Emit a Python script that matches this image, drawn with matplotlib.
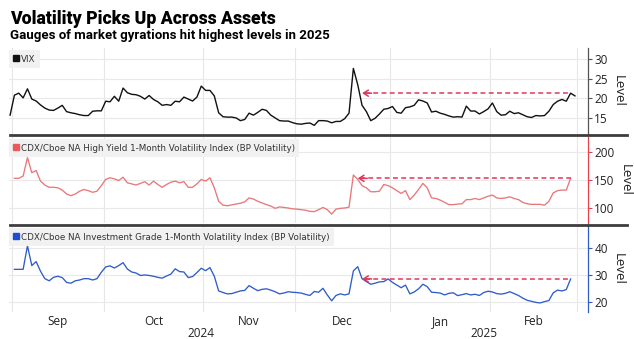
import numpy as np
import pandas as pd
import matplotlib
matplotlib.use('Agg')
import matplotlib.pyplot as plt
from matplotlib.lines import Line2D
from matplotlib.transforms import blended_transform_factory

# ---------------- data ----------------
dates = pd.bdate_range('2024-08-30', '2025-02-28')
vix = [15.7, 20.8, 21.3, 20.1, 22.4, 19.8, 19.3, 18.3, 17.5, 17.0,
       16.9, 17.5, 18.2, 16.6, 16.3, 16.1, 15.8, 15.6, 15.6, 16.7,
       16.8, 16.8, 19.25, 19.1, 20.5, 19.25, 22.6, 21.4, 21.0, 20.9,
       20.5, 19.8, 20.7, 19.7, 19.1, 18.2, 18.4, 18.2, 19.25, 19.1,
       20.3, 19.8, 19.3, 20.3, 23.1, 22.0, 22.0, 20.6, 16.3, 15.3,
       15.2, 15.2, 15.0, 14.3, 14.6, 16.2, 15.7, 16.4, 17.2, 16.9,
       15.7, 15.0, 14.3, 14.2, 14.2, 13.8, 13.5, 13.4, 13.6, 13.7,
       13.1, 14.3, 14.3, 14.2, 13.75, 14.1, 14.1, 14.8, 16.2, 27.6,
       23.5, 18.2, 16.6, 14.3, 14.9, 16.0, 17.2, 17.4, 17.9, 16.4,
       16.2, 17.6, 17.8, 18.2, 19.6, 19.3, 18.8, 16.5, 16.7, 16.2,
       15.9, 15.5, 15.2, 15.3, 15.2, 18.0, 16.75, 16.75, 16.0, 16.6,
       17.3, 18.8, 16.6, 15.7, 15.8, 16.7, 16.1, 16.3, 15.8, 15.3,
       15.1, 15.6, 15.5, 15.6, 16.7, 18.4, 19.25, 19.7, 19.25, 21.3,
       20.6]

cdx_dates = pd.bdate_range('2024-09-02', '2025-02-27')
hy = [153, 153, 157, 190, 163, 167, 148, 141, 137, 137,
      136, 132, 125, 122, 125, 130, 133, 131, 128, 130,
      140, 151, 154, 152, 149, 155, 145, 143, 141, 144,
      147, 141, 148, 142, 137, 142, 146, 148, 145, 147,
      137, 137, 143, 151, 148, 154, 136, 112, 105, 104,
      105.5, 107, 108.5, 111, 118, 116, 112, 109, 106, 103.5,
      99.4, 102, 101, 100, 98.5, 98, 97, 96, 94, 93.5,
      97, 101, 97, 89, 98, 99.4, 100, 101.5, 159, 151,
      140, 136, 129, 129, 130, 142, 140, 136, 131, 126,
      131, 115, 123, 133, 144, 136, 118, 117, 114, 110,
      106, 106, 107, 107.5, 115, 115, 117, 115, 118, 121,
      123, 118, 117, 118, 120, 117, 115, 110, 107.5, 106.5,
      106.5, 106.5, 105, 112, 127, 131, 132, 132, 153]
ig = [32.1, 32.1, 32.1, 40.9, 33.5, 35.0, 31.4, 28.6, 27.8, 29.1,
      29.5, 29.0, 27.2, 26.9, 27.8, 28.1, 28.6, 28.6, 28.1, 28.6,
      31.0, 33.0, 33.4, 32.6, 33.5, 34.6, 32.2, 31.1, 30.7, 29.8,
      30.0, 29.8, 29.5, 29.1, 28.8, 29.6, 30.3, 32.3, 31.25, 31.1,
      29.0, 29.4, 30.9, 32.5, 31.6, 32.75, 29.5, 24.0, 23.4, 22.9,
      23.0, 23.5, 24.0, 24.2, 26.0, 25.0, 24.1, 24.6, 24.8, 24.3,
      23.7, 22.9, 23.2, 23.7, 23.5, 23.4, 23.2, 22.7, 22.3, 23.8,
      23.5, 25.0, 22.5, 20.3, 22.3, 22.9, 22.5, 22.9, 31.5, 33.1,
      28.6, 27.5, 26.5, 26.9, 27.4, 27.5, 28.5, 27.2, 26.2, 25.2,
      26.2, 22.9, 23.6, 24.8, 26.5, 25.6, 23.5, 23.4, 23.2, 22.5,
      23.1, 23.3, 22.25, 22.6, 23.0, 22.5, 22.75, 22.3, 23.4, 23.9,
      23.6, 23.0, 22.8, 23.1, 23.7, 23.0, 22.3, 21.3, 20.5, 20.1,
      19.7, 19.5, 20.0, 20.4, 23.3, 24.3, 24.0, 24.5, 28.5]

labels = ['VIX',
          'CDX/Cboe NA High Yield 1-Month Volatility Index (BP Volatility)',
          'CDX/Cboe NA Investment Grade 1-Month Volatility Index (BP Volatility)']
arrow_from = '2025-02-27'
arrow_to = ['2024-12-23', '2024-12-20', '2024-12-23']
yticks = [[15, 20, 25, 30], [100, 150, 200], [20, 30, 40]]
ylims = [(10.9, 32.8), (73.2, 226.8), (16.1, 48.35)]

# ---------------- style ----------------
W, H = 634, 339
fig = plt.figure(figsize=(W / 100, H / 100), dpi=100)
fig.patch.set_facecolor('white')

line_colors = ['#111111', '#e8787a', '#2f5cc8']
spine_colors = ['#555555', '#e8414a', '#2f5cc8']
legend_colors = ['#111111', '#e85a5c', '#1f4fd0']
arrow_c = '#e0365f'

tick_font = 'Open Sans'
title_font = 'Roboto'

x_all = np.arange(len(dates))
x_cdx = dates.get_indexer(cdx_dates)
series = [(x_all, np.array(vix)), (x_cdx, np.array(hy)), (x_cdx, np.array(ig))]
dser = [pd.Series(vix, index=dates), pd.Series(hy, index=cdx_dates), pd.Series(ig, index=cdx_dates)]

# month boundaries and centers
months = dates.to_period('M')
first_idx = [i for i in range(1, len(dates)) if months[i] != months[i - 1]]
bounds = [i - 0.5 for i in first_idx] + [len(dates) - 0.5]
centers = [(bounds[k] + bounds[k + 1]) / 2 for k in range(len(bounds) - 1)]
mlabels = [dates[i].strftime('%b') for i in first_idx]
year_start = [i for i in first_idx if dates[i].month == 1][0] - 0.5
years = [(str(dates[first_idx[0]].year), (bounds[0] + year_start) / 2),
         (str(dates[-1].year), (year_start + bounds[-1]) / 2)]

left = 9 / W
width = (588 - 9) / W
tops = [48, 137, 226]
ph = 86
axes = []
for k in range(3):
    ax = fig.add_axes([left, 1 - (tops[k] + ph) / H, width, ph / H])
    axes.append(ax)
    x, y = series[k]
    ax.plot(x, y, color=line_colors[k], lw=1.0 if k == 0 else 0.95, zorder=3)
    ax.set_xlim(-0.25, 133.0)
    ax.set_ylim(*ylims[k])
    ax.set_yticks(yticks[k])
    ax.yaxis.tick_right()
    ax.yaxis.set_label_position('right')
    for s in ['left', 'top', 'bottom']:
        ax.spines[s].set_visible(False)
    ax.spines['right'].set_color(spine_colors[k])
    ax.spines['right'].set_linewidth(0.9)
    ax.tick_params(axis='y', direction='out', length=3, width=0.8,
                   color=spine_colors[k], labelsize=8.5, pad=1.5, labelcolor='#222222')
    for t in ax.get_yticklabels():
        t.set_fontfamily(tick_font)
    ax.set_ylabel('Level', rotation=270, labelpad=12, fontsize=9.5,
                  family=tick_font, color='#222222')
    ax.set_xticks(bounds, minor=True)
    ax.set_xticks(centers)
    ax.grid(axis='y', which='major', color='#e9e9e9', lw=0.8)
    ax.grid(axis='x', which='minor', color='#e6e6e6', lw=0.8)
    ax.tick_params(axis='x', which='both', length=0)
    ax.set_axisbelow(True)
    if k < 2:
        ax.set_xticklabels([])
    else:
        ax.set_xticklabels(mlabels, fontsize=8.5, family=tick_font, color='#222222')
        ax.tick_params(axis='x', pad=2)
        tr = blended_transform_factory(ax.transData, ax.transAxes)
        for yr, cx in years:
            ax.text(cx, -0.245, yr, transform=tr, ha='center', va='center',
                    fontsize=8.5, family=tick_font, color='#222222')

    # legend
    h = Line2D([], [], marker='s', color=legend_colors[k], linestyle='none', markersize=3.8)
    lg = ax.legend([h], [labels[k]], loc='upper left', bbox_to_anchor=(0.0, 0.975),
                   borderaxespad=0, frameon=True, fancybox=False, fontsize=6.3,
                   handlelength=0.6, handletextpad=0.25, borderpad=0.5)
    lg.get_frame().set_facecolor('#f1f1f1')
    lg.get_frame().set_edgecolor('none')
    lg.get_frame().set_alpha(1)
    for t in lg.get_texts():
        t.set_color('#333333')

    # dashed arrow
    s = dser[k]
    lvl = s[pd.Timestamp(arrow_from)]
    xs = dates.get_loc(pd.Timestamp(arrow_from))
    xe = dates.get_loc(pd.Timestamp(arrow_to[k]))
    ax.plot([xe + 0.6, xs], [lvl, lvl], ls=(0, (3.2, 2.2)), color=arrow_c, lw=1.1, zorder=4)
    ax.annotate('', xy=(xe, lvl), xytext=(xe + 2.2, lvl),
                arrowprops=dict(arrowstyle='->,head_length=0.35,head_width=0.22',
                                color=arrow_c, lw=1.1, shrinkA=0, shrinkB=0), zorder=4)

# separators
for yy in [135.5, 224.5]:
    fig.add_artist(Line2D([10 / W, 627 / W], [1 - yy / H, 1 - yy / H],
                          color='#3d3d3d', lw=2.0, transform=fig.transFigure))

fig.text(10 / W, 1 - 24 / H, 'Volatility Picks Up Across Assets', fontsize=12.7,
         fontweight='heavy', family=title_font, va='baseline', ha='left', color='#000000')
fig.text(10 / W, 1 - 39.5 / H, 'Gauges of market gyrations hit highest levels in 2025',
         fontsize=9.5, fontweight='bold', family=title_font, va='baseline', ha='left',
         color='#000000')

fig.savefig('out.png', dpi=100, facecolor='white')
